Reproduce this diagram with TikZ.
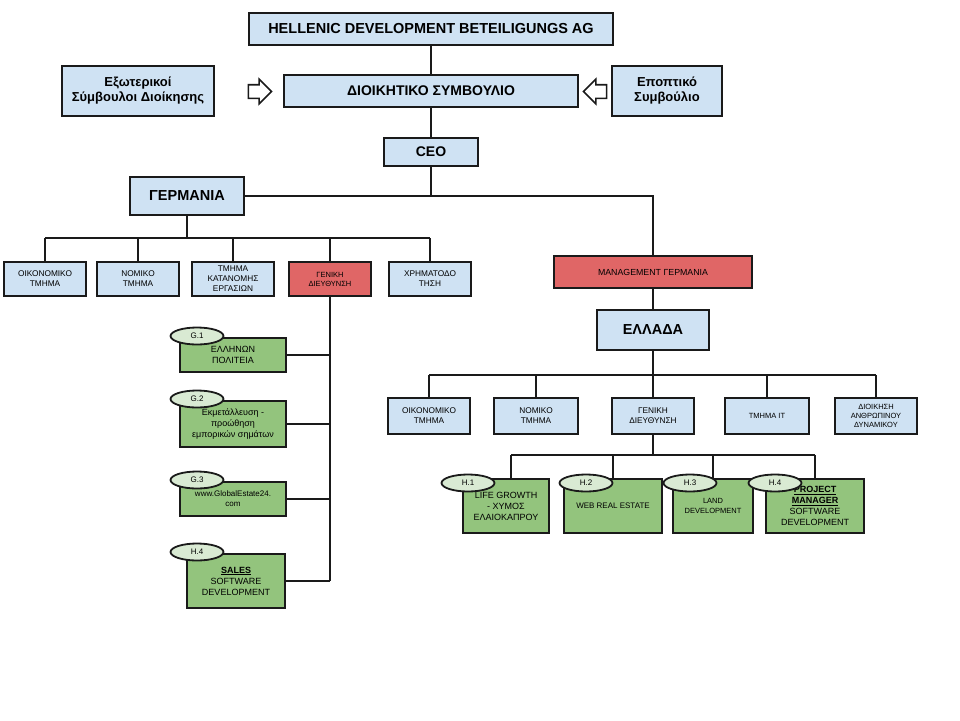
\documentclass[tikz,border=0pt]{standalone}
\usepackage{fontspec}
\setmainfont{Liberation Sans}
\usetikzlibrary{shapes.geometric,shapes.arrows}
\definecolor{box-blue}{HTML}{CFE2F3}
\definecolor{box-red}{HTML}{E06666}
\definecolor{box-green}{HTML}{93C47D}
\definecolor{tag-green}{HTML}{D9EAD3}
\definecolor{edge-dark}{HTML}{1A1A1A}

\begin{document}
\begin{tikzpicture}[x=1pt, y=-1pt,
      every node/.style={align=center, inner sep=1pt},
      bluebox/.style={draw=edge-dark, line width=2pt, fill=box-blue},
      redbox/.style={draw=edge-dark, line width=2pt, fill=box-red},
      greenbox/.style={draw=edge-dark, line width=2pt, fill=box-green},
      tag/.style={ellipse, draw=edge-dark, line width=1.8pt, fill=tag-green,
          minimum width=53pt, minimum height=17pt, inner sep=0pt,
          font=\fontsize{8}{9}\selectfont},
      big/.style={font=\bfseries\fontsize{14.5}{16}\selectfont},
      small/.style={font=\fontsize{8.3}{10}\selectfont},
      tiny/.style={font=\fontsize{7.5}{9}\selectfont},
      green text/.style={font=\fontsize{9}{11}\selectfont},
      hollow/.style={single arrow, draw=edge-dark, line width=1.6pt, fill=white,
          minimum height=23pt, inner sep=6pt, single arrow head extend=5.5pt},
      link/.style={line width=2pt, edge-dark}]
    \useasboundingbox (0,0) rectangle (960,720);

    \node[bluebox, big, minimum width=364pt, minimum height=32pt] (TOP) at (431,29)
          {HELLENIC DEVELOPMENT BETEILIGUNGS AG};
    \node[bluebox, font=\bfseries\fontsize{14}{16}\selectfont, minimum width=294pt,
          minimum height=32pt] (BOARD) at (431,91) {ΔΙΟΙΚΗΤΙΚΟ ΣΥΜΒΟΥΛΙΟ};
    \node[bluebox, font=\bfseries\fontsize{13}{15}\selectfont, minimum width=152pt,
          minimum height=50pt] (EXT) at (138,91) {Εξωτερικοί\\Σύμβουλοι Διοίκησης};
    \node[bluebox, font=\bfseries\fontsize{13}{15}\selectfont, minimum width=110pt,
          minimum height=50pt] (SUP) at (667,91) {Εποπτικό\\Συμβούλιο};
    \node[hollow] (ARRL) at (256.5,91.5) {};
    \node[hollow, shape border rotate=180] (ARRR) at (598.5,91.5) {};
    \node[bluebox, font=\bfseries\fontsize{14}{16}\selectfont, minimum width=94pt,
          minimum height=28pt] (CEO) at (431,152) {CEO};

    % germany side
    \node[bluebox, big, minimum width=114pt, minimum height=38pt] (GER) at (187,196) {ΓΕΡΜΑΝΙΑ};
    \node[bluebox, small, minimum width=82pt, minimum height=34pt] (G1) at (45,279) {ΟΙΚΟΝΟΜΙΚΟ\\ΤΜΗΜΑ};
    \node[bluebox, small, minimum width=82pt, minimum height=34pt] (G2) at (138,279) {ΝΟΜΙΚΟ\\ΤΜΗΜΑ};
    \node[bluebox, small, minimum width=82pt, minimum height=34pt] (G3) at (233,279) {ΤΜΗΜΑ\\ΚΑΤΑΝΟΜΗΣ\\ΕΡΓΑΣΙΩΝ};
    \node[redbox, tiny, minimum width=82pt, minimum height=34pt] (G4) at (330,279) {ΓΕΝΙΚΗ\\ΔΙΕΥΘΥΝΣΗ};
    \node[bluebox, small, minimum width=82pt, minimum height=34pt] (G5) at (430,279) {ΧΡΗΜΑΤΟΔΟ\\ΤΗΣΗ};
    \coordinate (GBUS) at (0,238);

    \node[greenbox, green text, minimum width=106pt, minimum height=34pt] (S1) at (233,355) {ΕΛΛΗΝΩΝ\\ΠΟΛΙΤΕΙΑ};
    \node[greenbox, green text, minimum width=106pt, minimum height=46pt] (S2) at (233,424)
          {Εκμετάλλευση -\\προώθηση\\εμπορικών σημάτων};
    \node[greenbox, font=\fontsize{8}{10}\selectfont, minimum width=106pt, minimum height=34pt] (S3) at (233,499)
          {www.GlobalEstate24.\\com};
    \node[greenbox, green text, minimum width=98pt, minimum height=54pt] (S4) at (236,581)
          {\textbf{\underline{SALES}}\\SOFTWARE\\DEVELOPMENT};
    \node[tag] (T1) at (197,336) {G.1};
    \node[tag] (T2) at (197,399) {G.2};
    \node[tag] (T3) at (197,480) {G.3};
    \node[tag] (T4) at (197,552) {H.4};

    % greece side
    \node[redbox, font=\fontsize{8.8}{10}\selectfont, minimum width=198pt, minimum height=32pt] (MGMT) at (653,272)
          {MANAGEMENT ΓΕΡΜΑΝΙΑ};
    \node[bluebox, big, minimum width=112pt, minimum height=40pt] (GRE) at (653,330) {ΕΛΛΑΔΑ};
    \node[bluebox, small, minimum width=82pt, minimum height=36pt] (H1) at (429,416) {ΟΙΚΟΝΟΜΙΚΟ\\ΤΜΗΜΑ};
    \node[bluebox, small, minimum width=84pt, minimum height=36pt] (H2) at (536,416) {ΝΟΜΙΚΟ\\ΤΜΗΜΑ};
    \node[bluebox, small, minimum width=82pt, minimum height=36pt] (H3) at (653,416) {ΓΕΝΙΚΗ\\ΔΙΕΥΘΥΝΣΗ};
    \node[bluebox, tiny, minimum width=84pt, minimum height=36pt] (H4) at (767,416) {ΤΜΗΜΑ IT};
    \node[bluebox, tiny, minimum width=82pt, minimum height=36pt] (H5) at (876,416)
          {ΔΙΟΙΚΗΣΗ\\ΑΝΘΡΩΠΙΝΟΥ\\ΔΥΝΑΜΙΚΟΥ};
    \coordinate (HBUS) at (0,375);
    \coordinate (PBUS) at (0,455);

    \node[greenbox, green text, minimum width=86pt, minimum height=54pt] (P1) at (506,506)
          {LIFE GROWTH\\- ΧΥΜΟΣ\\ΕΛΑΙΟΚΑΠΡΟΥ};
    \node[greenbox, font=\fontsize{8}{10}\selectfont, minimum width=98pt, minimum height=54pt] (P2) at (613,506)
          {WEB REAL ESTATE};
    \node[greenbox, font=\fontsize{7.5}{9.5}\selectfont, minimum width=80pt, minimum height=54pt] (P3) at (713,506)
          {LAND\\DEVELOPMENT};
    \node[greenbox, green text, minimum width=98pt, minimum height=54pt] (P4) at (815,506)
          {\textbf{\underline{PROJECT}}\\\textbf{\underline{MANAGER}}\\SOFTWARE\\DEVELOPMENT};

    \draw[link] (TOP.south) -- (BOARD.north);
    \draw[link] (BOARD.south) -- (CEO.north);
    \draw[link] (CEO.south) -- (CEO.south |- GER.east);
    \draw[link] (GER.east) -| (MGMT.north);

    \draw[link] (GER.south) -- (GER.south |- GBUS);
    \draw[link] (G1.north |- GBUS) -- (G5.north |- GBUS);
    \foreach \n in {G1,G2,G3,G4,G5}
      \draw[link] (\n.north) -- (\n.north |- GBUS);
    \draw[link] (G4.south) -- (G4.south |- S4.east);
    \foreach \n in {S1,S2,S3,S4}
      \draw[link] (\n.east) -- (\n.east -| G4.south);

    \draw[link] (MGMT.south) -- (GRE.north);
    \draw[link] (GRE.south) -- (GRE.south |- HBUS);
    \draw[link] (H1.north |- HBUS) -- (H5.north |- HBUS);
    \foreach \n in {H1,H2,H3,H4,H5}
      \draw[link] (\n.north) -- (\n.north |- HBUS);
    \draw[link] (H3.south) -- (H3.south |- PBUS);
    \draw[link] ([xshift=5pt]P1.north |- PBUS) -- (P4.north |- PBUS);
    \draw[link] ([xshift=5pt]P1.north) -- ([xshift=5pt]P1.north |- PBUS);
    \foreach \n in {P2,P3,P4}
      \draw[link] (\n.north) -- (\n.north |- PBUS);

    \node[tag] (U1) at (468,483) {H.1};
    \node[tag] (U2) at (586,483) {H.2};
    \node[tag] (U3) at (690,483) {H.3};
    \node[tag] (U4) at (775,483) {H.4};
  \end{tikzpicture}
\end{document}
